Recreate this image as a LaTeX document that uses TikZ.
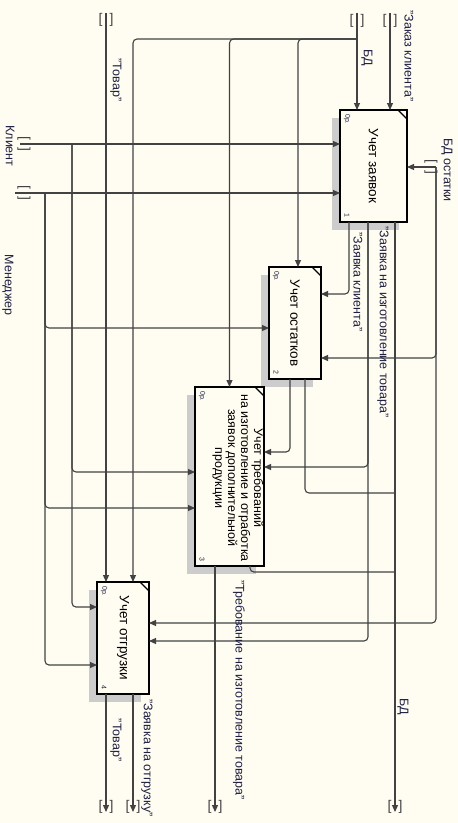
\documentclass[tikz,border=0pt]{standalone}
\usepackage{fontspec}
\setmainfont{Liberation Sans}
\usepackage{xcolor}
\usepackage{tikz}
\usetikzlibrary{arrows.meta,shadows,calc}

\definecolor{paper}{RGB}{255,253,241}
\definecolor{ink}{RGB}{30,30,66}
\definecolor{wire}{RGB}{66,66,66}

\begin{document}
\begin{tikzpicture}[x=1pt, y=-1pt,
    fbox/.style={rectangle, draw, line width=2pt, fill=paper, inner sep=0pt, outer sep=0pt,
        drop shadow={shadow xshift=-8pt, shadow yshift=-8pt, fill=black!20, opacity=1}},
    ftext/.style={rotate=-90, align=center, text=black, font=\fontsize{13.5}{14}\selectfont},
    lbl/.style={rotate=-90, text=ink, inner sep=0pt, font=\fontsize{12.5}{13}\selectfont},
    tiny/.style={rotate=-90, text=ink, inner sep=0pt, font=\fontsize{7}{8}\selectfont},
    tunv/.style={inner sep=0pt, text=wire, font=\fontsize{14}{14}\selectfont},
    tunh/.style={tunv, rotate=-90},
    wire/.style={draw=wire, line width=1.1pt, rounded corners=4pt},
    arr/.style={wire, -{Triangle[length=7pt, width=6pt]}}]

    \fill[paper] (0,0) rectangle (458,823);
    \useasboundingbox (0,0) rectangle (458,823);

    % boxes
    \node[fbox, minimum width=67pt, minimum height=112pt] (b1) at (373.5,166) {};
    \node[fbox, minimum width=52pt, minimum height=112pt] (b2) at (295,323) {};
    \node[fbox, minimum width=69pt, minimum height=179pt] (b3) at (229.5,476.5) {};
    \node[fbox, minimum width=52pt, minimum height=112pt] (b4) at (123,638) {};

    \node[ftext] (n1) at (b1.center) {Учет заявок};
    \node[ftext] (n2) at (b2.center) {Учет остатков};
    \node[ftext, font=\fontsize{12.5}{13}\selectfont] (n3) at (238,478) {Учет требований\\на изготовление и отработка\\заявок дополнительной\\продукции};
    \node[ftext] (n4) at (b4.center) {Учет отгрузки};

    \foreach \b/\k in {b1/1, b2/2, b3/3, b4/4} {
        \draw[line width=1.2pt] ($(\b.north east)+(-9,0)$) -- ($(\b.north east)+(0,9)$);
        \node[tiny] (o\k) at ($(\b.north west)+(7,9)$) {0р.};
        \node[tiny] (d\k) at ($(\b.south west)+(7,-7)$) {\k};
    }

    % ends of the arrows
    \coordinate (inTovar) at (106,13);
    \coordinate (inBD) at (357,13);
    \coordinate (inZakaz) at (390,13);
    \coordinate (inKlient) at (20,144);
    \coordinate (inMen) at (15,193);
    \coordinate (inOst) at (436,167);
    \coordinate (outTovar) at (106,812);
    \coordinate (outOtgr) at (133,812);
    \coordinate (outTreb) at (215,812);
    \coordinate (outBD) at (395,812);
    \coordinate (busBD) at (357,39);
    \coordinate (jK) at (72,144);
    \coordinate (jM) at (45,193);
    \coordinate (jB2) at (395,493);
    \coordinate (jB3) at (395,572);

    \node[tunv] (kTovar) at (106,20) {[\hspace{7pt}]};
    \node[tunv] (kBD) at (357,21) {[\hspace{7pt}]};
    \node[tunv] (kZakaz) at (390,21) {[\hspace{7pt}]};
    \node[tunh] (kKlient) at (24,144) {[\hspace{7pt}]};
    \node[tunh] (kMen) at (24,193) {[\hspace{7pt}]};
    \node[tunh] (kOst) at (431,167) {[\hspace{7pt}]};
    \node[tunv] (kOutTovar) at (106,807) {[\hspace{7pt}]};
    \node[tunv] (kOutOtgr) at (133,807) {[\hspace{7pt}]};
    \node[tunv] (kOutTreb) at (215,807) {[\hspace{7pt}]};
    \node[tunv] (kOutBD) at (395,807) {[\hspace{7pt}]};

    % inputs and controls
    \draw[arr] (inTovar) -- (inTovar |- b4.north);
    \draw[arr] (inBD) -- (inBD |- b1.north);
    \draw[arr] (inZakaz) -- (inZakaz |- b1.north);
    \draw[arr] (busBD) -| (outOtgr |- b4.north);
    \draw[arr] (busBD) -| (b3.north);
    \draw[arr] (busBD) -| ($(b2.north west)+(29,0)$);

    \draw[arr] (inKlient) -- (b1.west |- inKlient);
    \draw[arr] (jK) |- ($(b3.north west)+(0,85)$);
    \draw[arr] (jK) |- ($(b4.north west)+(0,25)$);

    \draw[arr] (inMen) -- (b1.west |- inMen);
    \draw[arr] (jM) |- ($(b2.north west)+(0,61)$);
    \draw[arr] (jM) |- ($(b3.north west)+(0,121)$);
    \draw[arr] (jM) |- ($(b4.north west)+(0,83)$);

    \draw[arr] (inOst) -- (b1.east |- inOst);
    \draw[arr] (inOst) |- ($(b2.north east)+(0,91)$);
    \draw[arr] (inOst) |- ($(b4.north east)+(0,41)$);

    % outputs
    \draw[arr] ($(b1.south west)+(9,0)$) |- ($(b2.north east)+(0,27)$);
    \draw[arr] ($(b1.south west)+(28,0)$) |- ($(b3.north east)+(0,80)$);
    \draw[arr] ($(b1.south west)+(28,0)$) |- ($(b4.north east)+(0,59)$);
    \draw[arr] ($(b1.south west)+(55,0)$) -- (outBD);

    \draw[arr] ($(b2.south west)+(21,0)$) |- ($(b3.north east)+(0,65)$);
    \draw[wire] ($(b2.south west)+(36,0)$) |- (jB2);

    \draw[arr] ($(b3.south west)+(20,0)$) -- (outTreb);
    \draw[wire] ($(b3.south west)+(55,0)$) |- (jB3);

    \draw[arr] ($(b4.south west)+(9,0)$) -- (outTovar);
    \draw[arr] ($(b4.south west)+(36,0)$) -- (outOtgr);

    % labels
    \node[lbl] (lTovarIn) at (116,80) {"Товар"};
    \node[lbl] (lBD) at (367,58) {БД};
    \node[lbl] (lZakaz) at (409,56) {"Заказ клиента"};
    \node[lbl] (lKlient) at (10,146) {Клиент};
    \node[lbl] (lMen) at (8,285) {Менеджер};
    \node[lbl] (lOst) at (447,170) {БД остатки};
    \node[lbl] (lZk) at (358,282) {"Заявка клиента"};
    \node[lbl] (lZi) at (383,322) {"Заявка на изготовление товара"};
    \node[lbl] (lTreb) at (239,690) {"Требование на изготовление товара"};
    \node[lbl] (lBDout) at (403,707) {БД};
    \node[lbl] (lTovarOut) at (116,740) {"Товар"};
    \node[lbl] (lOtgr) at (147,758) {"Заявка на отгрузку"};

\end{tikzpicture}
\end{document}
